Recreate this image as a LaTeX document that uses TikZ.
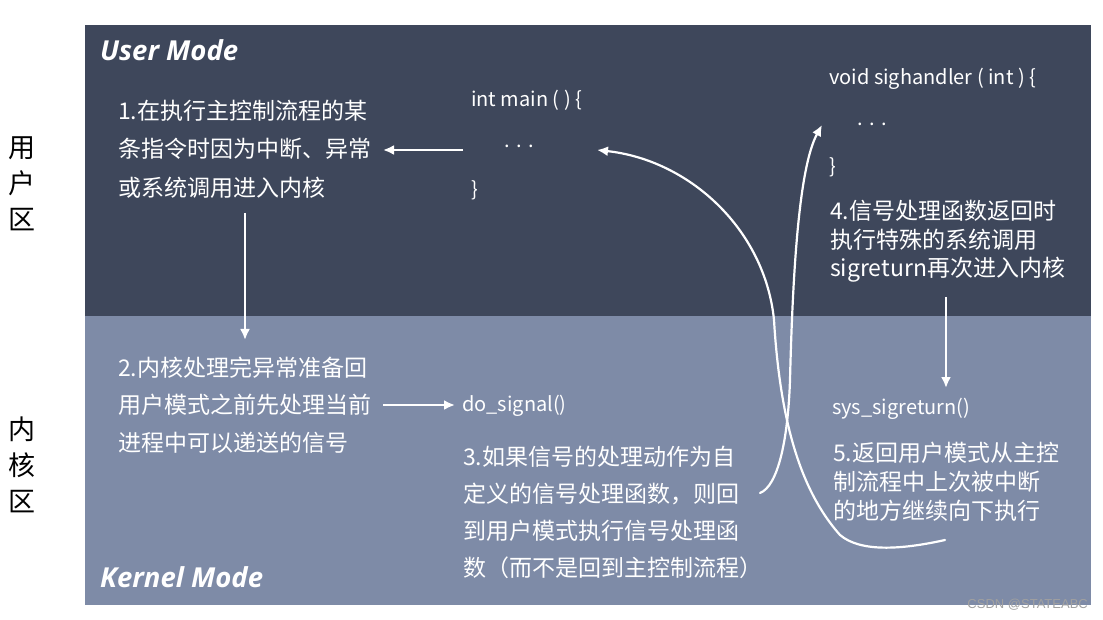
\documentclass[tikz,border=0pt]{standalone}
\usepackage{fontspec}
\setmainfont{Noto Sans CJK SC}
\newfontfamily\modefont{Open Sans}
\newfontfamily\wmfont{Liberation Sans}
\usetikzlibrary{arrows.meta}
\definecolor{userbg}{RGB}{62,71,91}
\definecolor{kernbg}{RGB}{126,139,167}
\definecolor{wmgray}{RGB}{160,160,160}
\tikzset{
  txt/.style={text=white,inner sep=0pt,anchor=west,align=left},
  code/.style={text=white,inner sep=0pt,anchor=west,font=\fontsize{20}{20}\selectfont},
  modelabel/.style={text=white,inner sep=0pt,anchor=west,font=\modefont\bfseries\itshape\fontsize{27.5}{27.5}\selectfont},
  flow/.style={draw=white,line width=2.4pt,-{Latex[length=11pt,width=10pt]}},
  curve/.style={draw=white,line width=2.2pt,line cap=round},
  side/.style={inner sep=0pt,align=center,font=\fontsize{27}{36}\selectfont}
}
\begin{document}
\begin{tikzpicture}[x=1pt,y=-1pt]
\useasboundingbox[fill=white] (0,0) rectangle (1103,620);
\fill[userbg] (85,25) rectangle (1091,316);
\fill[kernbg] (85,316) rectangle (1091,605);

\node[modelabel] (um) at (100,50) {User Mode};
\node[modelabel] (km) at (100,577) {Kernel Mode};

\node[side] (ua) at (22,184) {用\\户\\区};
\node[side] (ka) at (22,465) {内\\核\\区};

\node[txt,font=\fontsize{23}{38.5}\selectfont] (t1) at (118,149) {1.在执行主控制流程的某\\条指令时因为中断、异常\\或系统调用进入内核};
\node[txt,font=\fontsize{23}{37.5}\selectfont] (t2) at (118,405) {2.内核处理完异常准备回\\用户模式之前先处理当前\\进程中可以递送的信号};
\node[txt,font=\fontsize{23}{37}\selectfont] (t3) at (463,512.5) {3.如果信号的处理动作为自\\定义的信号处理函数，则回\\到用户模式执行信号处理函\\数（而不是回到主控制流程）};
\node[txt,font=\fontsize{23}{28.5}\selectfont] (t4) at (830,241.5) {4.信号处理函数返回时\\执行特殊的系统调用\\sigreturn再次进入内核};
\node[txt,font=\fontsize{23}{29}\selectfont] (t5) at (833,482) {5.返回用户模式从主控\\制流程中上次被中断\\的地方继续向下执行};

\node[code] (m1) at (471,100) {int main ( ) \{};
\node[code] (m2) at (504,146) {.\,\,.\,\,.};
\node[code] (m3) at (471,190) {\}};
\node[code] (h1) at (829,79) {void sighandler ( int ) \{};
\node[code] (h2) at (857,124) {.\,\,.\,\,.};
\node[code] (h3) at (829,167) {\}};
\node[code] (ds) at (462,406) {do\_signal()};
\node[code] (ss) at (832,409) {sys\_sigreturn()};

\node[inner sep=0pt,anchor=east,text=wmgray,font=\wmfont\fontsize{13}{13}\selectfont] (wm) at (1088,605) {CSDN @STATEABC};

\coordinate (a1s) at (463,150);
\coordinate (a1e) at (383,150);
\coordinate (a2s) at (245,213);
\coordinate (a2e) at (245,340);
\coordinate (a3s) at (383,405);
\coordinate (a3e) at (455,405);
\coordinate (a4s) at (946,297);
\coordinate (a4e) at (946,388);
\coordinate (c1s) at (760,493);
\coordinate (c1e) at (822,125);
\coordinate (c2s) at (945,540);
\coordinate (c2e) at (597,150);

\draw[flow] (a1s) -- (a1e);
\draw[flow] (a2s) -- (a2e);
\draw[flow] (a3s) -- (a3e);
\draw[flow] (a4s) -- (a4e);
\draw[curve,-{Latex[length=11pt,width=10pt]}] (c1s) .. controls (778,486) and (788,440) .. (790,380)
  .. controls (793,260) and (800,165) .. (c1e);
\draw[curve,-{Latex[length=11pt,width=10pt]}] (c2s) .. controls (900,550) and (860,552) .. (840,535)
  .. controls (800,490) and (780,420) .. (774,320)
  .. controls (765,230) and (690,160) .. (c2e);
\end{tikzpicture}
\end{document}
